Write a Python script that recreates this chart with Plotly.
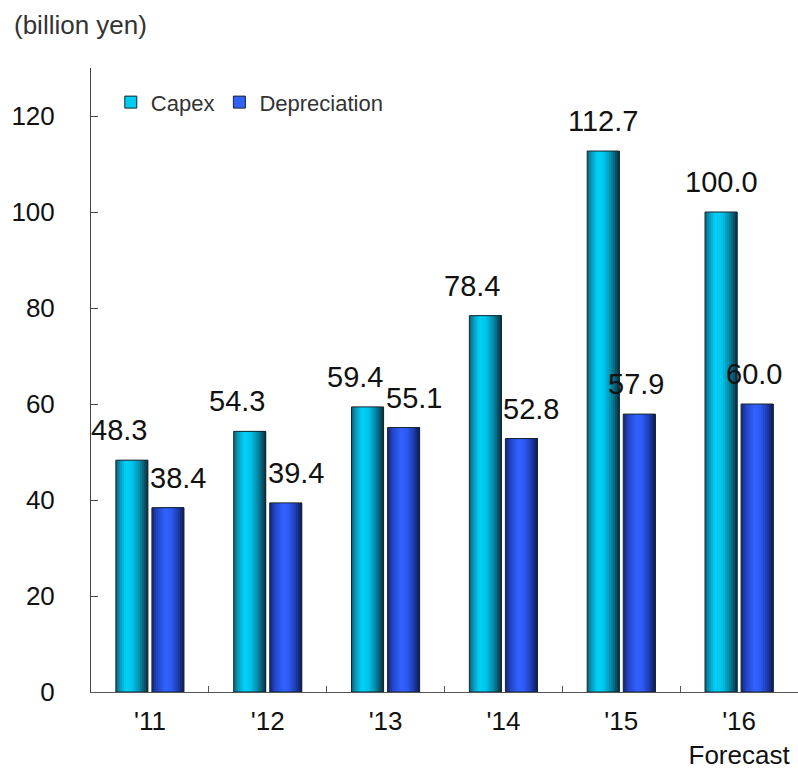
import plotly.graph_objects as go

# ---- data ----
years = ["'11", "'12", "'13", "'14", "'15", "'16<br>Forecast"]
capex = [48.3, 54.3, 59.4, 78.4, 112.7, 100.0]
depreciation = [38.4, 39.4, 55.1, 52.8, 57.9, 60.0]
series_names = ["Capex", "Depreciation"]
unit_label = "(billion yen)"
y_ticks = [0, 20, 40, 60, 80, 100, 120]

# ---- style ----
FONT = "Arial, 'Liberation Sans', sans-serif"
BAR_W = 0.272
OFFSETS = [-0.289, 0.017]
PX_PER_CAT = 117.8
CAPEX_STOPS = [(0.0, (11, 95, 118)), (0.12, (8, 150, 185)), (0.32, (0, 210, 248)),
               (0.52, (0, 196, 236)), (0.72, (4, 146, 178)), (0.88, (10, 90, 112)),
               (1.0, (12, 45, 58))]
DEP_STOPS = [(0.0, (20, 36, 110)), (0.15, (34, 68, 196)), (0.42, (50, 98, 255)),
             (0.6, (46, 90, 244)), (0.8, (30, 62, 180)), (1.0, (14, 26, 80))]
N_SLICES = 16


def interp(stops, t):
    for (t0, c0), (t1, c1) in zip(stops[:-1], stops[1:]):
        if t0 <= t <= t1:
            f = (t - t0) / (t1 - t0) if t1 > t0 else 0
            return "rgb(%d,%d,%d)" % tuple(round(a + (b - a) * f) for a, b in zip(c0, c1))
    return "rgb(%d,%d,%d)" % stops[-1][1]


fig = go.Figure()

for k, (values, name, off, stops) in enumerate(
        [(capex, series_names[0], OFFSETS[0], CAPEX_STOPS),
         (depreciation, series_names[1], OFFSETS[1], DEP_STOPS)]):
    step = BAR_W / N_SLICES
    for i in range(N_SLICES):
        t = (i + 0.5) / N_SLICES
        fig.add_trace(go.Bar(
            x=years, y=values, offset=off + i * step, width=BAR_W - i * step,
            marker=dict(color=interp(stops, t), line=dict(width=0)),
            showlegend=False, hoverinfo="skip",
        ))
    fig.add_trace(go.Bar(
        x=years, y=values, offset=off, width=BAR_W, name=name,
        marker=dict(color="rgba(0,0,0,0)", line=dict(color="#16262c", width=1)),
        showlegend=False, hoverinfo="x+y",
    ))
    fig.add_trace(go.Bar(
        x=[None], y=[None], name=name,
        marker=dict(color=interp(stops, 0.4), line=dict(color="#16262c", width=1)),
        showlegend=True,
    ))
    for x, v, c, d in zip(years, values, capex, depreciation):
        close = (c - d) < 30
        if k == 0:
            if close:
                anchor, xs = "right", (off + BAR_W) * PX_PER_CAT + 1
            else:
                anchor, xs = "center", (off + BAR_W / 2) * PX_PER_CAT
        else:
            if close:
                anchor, xs = "left", off * PX_PER_CAT - 4
            else:
                anchor, xs = "center", (off + BAR_W / 2) * PX_PER_CAT - 3
        fig.add_annotation(
            x=x, y=v, xref="x", yref="y", text=f"{v:.1f}", showarrow=False,
            xanchor=anchor, yanchor="bottom", xshift=xs, yshift=12,
            font=dict(family=FONT, size=29, color="#111111"),
        )

fig.add_annotation(
    text=unit_label, xref="paper", yref="paper", x=-0.112, y=1.069,
    xanchor="left", yanchor="middle", showarrow=False,
    font=dict(family=FONT, size=26, color="#333333"),
)

fig.update_layout(
    width=798, height=769,
    margin=dict(l=91, r=0, t=68, b=77),
    paper_bgcolor="white", plot_bgcolor="white",
    barmode="overlay",
    font=dict(family=FONT, color="#111111"),
    legend=dict(
        orientation="h", x=0.028, y=0.945, xanchor="left", yanchor="middle",
        font=dict(family=FONT, size=22, color="#333333"),
        bgcolor="rgba(0,0,0,0)", itemwidth=30, tracegroupgap=0,
    ),
    xaxis=dict(
        type="category", showline=True, linecolor="#555555", linewidth=1,
        ticks="inside", tickson="boundaries", ticklen=6, tickcolor="#555555",
        tickfont=dict(family=FONT, size=26, color="#111111"),
        showgrid=False, zeroline=False, range=[-0.5, 5.5], ticklabelstandoff=6,
    ),
    yaxis=dict(
        range=[0, 130], tickvals=y_ticks, showline=True, linecolor="#444444",
        linewidth=1, ticks="inside", ticklen=7, tickcolor="#444444",
        tickfont=dict(family=FONT, size=26, color="#111111"),
        showgrid=False, zeroline=False, ticklabelstandoff=30,
    ),
)

fig.write_html("out.html")
